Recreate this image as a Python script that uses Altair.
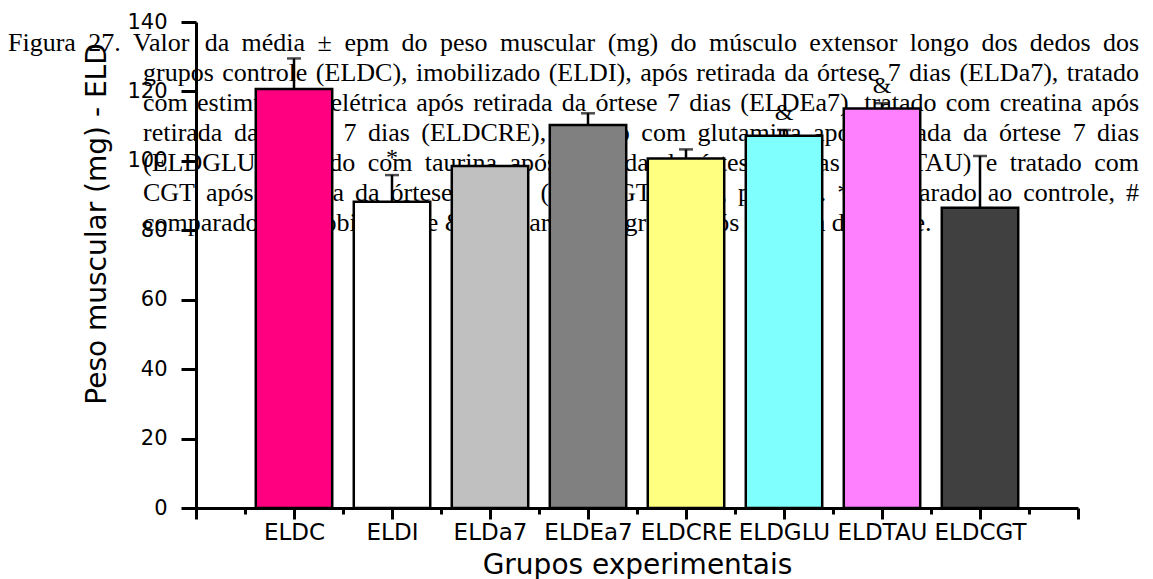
import json
import altair as alt
import pandas as pd

# ---- data -------------------------------------------------------------
groups = ["ELDC", "ELDI", "ELDa7", "ELDEa7", "ELDCRE", "ELDGLU", "ELDTAU", "ELDCGT"]
means = [120.7, 88.2, 98.5, 110.3, 100.7, 107.2, 115.1, 86.5]
sems = [8.8, 7.7, 0.0, 3.4, 2.6, 1.7, 1.5, 14.9]
signif = ["", "*", "", "", "", "&", "&", ""]
colors = ["#FF0080", "#FFFFFF", "#C0C0C0", "#808080", "#FFFF80", "#80FFFF", "#FF80FF", "#404040"]

caption_lines = [
    "Figura 27. Valor da média ± epm do peso muscular (mg) do músculo extensor longo dos dedos dos",
    "grupos controle (ELDC), imobilizado (ELDI), após retirada da órtese 7 dias (ELDa7), tratado",
    "com estimulação elétrica após retirada da órtese 7 dias (ELDEa7), tratado com creatina após",
    "retirada da órtese 7 dias (ELDCRE), tratado com glutamina após retirada da órtese 7 dias",
    "(ELDGLU), tratado com taurina após retirada da órtese 7 dias (ELDTAU) e tratado com",
    "CGT após retirada da órtese 7 dias (ELDCGT) (n=6, p<0,05). * comparado ao controle, #",
    "comparado ao imobilizado e & comparado ao grupo após retirada da órtese.",
]

# ---- layout -----------------------------------------------------------
PAD_L, PAD_T, PLOT_W, PLOT_H = 196, 22, 882, 486
CAP_SIZE = 26
CAP_BASELINES = [51, 81, 111, 141, 171, 201, 231]
CAP_LEFT = [8, 143, 143, 143, 143, 143, 143]
CAP_RIGHT = 1139

# Times / Liberation Serif advance widths (1/1000 em) for justification
_tw = {" ": 250, "#": 500, "&": 778, "(": 333, ")": 333, "*": 500, ",": 250,
       "-": 333, ".": 250, "<": 564, "=": 564, "±": 564}
_tw.update({d: 500 for d in "0123456789"})
_tw.update(dict(zip("ABCDEFGHIJKLMNOPQRSTUVWXYZ",
                    [722, 667, 667, 722, 611, 556, 722, 722, 333, 389, 722, 611, 889,
                     722, 722, 556, 722, 667, 556, 611, 722, 722, 944, 722, 722, 611])))
_tw.update(dict(zip("abcdefghijklmnopqrstuvwxyz",
                    [444, 500, 444, 500, 444, 333, 500, 500, 278, 278, 500, 278, 778,
                     500, 500, 500, 500, 333, 389, 278, 500, 500, 722, 500, 500, 444])))
_tw.update({"é": 444, "ó": 500, "ú": 500, "ç": 444, "ã": 444, "á": 444, "í": 278})


def text_width(s, size):
    return sum(_tw.get(c, 500) for c in s) / 1000.0 * size


rows = []
for i, line in enumerate(caption_lines):
    words = line.split(" ")
    widths = [text_width(w, CAP_SIZE) for w in words]
    last = i == len(caption_lines) - 1
    if last:
        gap = 0.25 * CAP_SIZE
    else:
        gap = (CAP_RIGHT - CAP_LEFT[i] - sum(widths)) / (len(words) - 1)
    x = CAP_LEFT[i]
    for w, wd in zip(words, widths):
        rows.append({"w": w, "px": x - PAD_L, "py": CAP_BASELINES[i] - PAD_T})
        x += wd + gap
caption_df = pd.DataFrame(rows)

df = pd.DataFrame({
    "group": groups,
    "mean": means,
    "sem": sems,
    "sig": signif,
    "pos": list(range(1, len(groups) + 1)),
})

# ---- scales & axes ----------------------------------------------------
xscale = alt.Scale(domain=[0, 9], nice=False, zero=False)
yscale = alt.Scale(domain=[0, 140], nice=False)

label_expr = (
    "datum.value % 1 === 0 && datum.value >= 1 && datum.value <= "
    + str(len(groups))
    + " ? "
    + json.dumps(groups)
    + "[datum.value - 1] : ''"
)

xaxis = alt.Axis(
    values=[k * 0.5 for k in range(19)],
    tickSize={"condition": {"test": "datum.value % 1 === 0", "value": 11}, "value": 6},
    labelExpr=label_expr,
    labelOverlap=False,
    labelFlush=False,
    labelFont="DejaVu Sans",
    labelFontSize=23,
    labelColor="black",
    labelPadding=2,
    domainColor="black",
    domainWidth=3,
    tickColor="black",
    tickWidth=3,
    grid=False,
    title="Grupos experimentais",
    titleFont="DejaVu Sans",
    titleFontSize=28,
    titleFontWeight="normal",
    titleColor="black",
    titleBaseline="alphabetic",
    titleY=65,
)

yaxis = alt.Axis(
    values=list(range(0, 141, 10)),
    tickSize={"condition": {"test": "datum.value % 20 === 0", "value": 15}, "value": 8},
    labelExpr="datum.value % 20 === 0 ? datum.label : ''",
    labelFont="DejaVu Sans",
    labelFontSize=21,
    labelColor="black",
    labelPadding=14,
    domainColor="black",
    domainWidth=3,
    tickColor="black",
    tickWidth=3,
    grid=False,
    title=None,
)

# ---- layers -----------------------------------------------------------
caption = alt.Chart(caption_df).mark_text(
    font="Liberation Serif", fontSize=CAP_SIZE, align="left", baseline="alphabetic", color="black"
).encode(
    x=alt.X("px:Q", scale=None),
    y=alt.Y("py:Q", scale=None),
    text="w:N",
)

base = alt.Chart(df).transform_calculate(
    lo="datum.pos - 0.39", hi="datum.pos + 0.39", top="datum.mean + datum.sem"
)

bars = base.mark_bar(stroke="black", strokeWidth=2.5).encode(
    x=alt.X("lo:Q", scale=xscale, axis=xaxis),
    x2="hi:Q",
    y=alt.Y("mean:Q", scale=yscale, axis=yaxis),
    y2=alt.datum(0),
    color=alt.Color("group:N", scale=alt.Scale(domain=groups, range=colors), legend=None),
)

errs = base.transform_filter("datum.sem > 0")

err_line = errs.mark_rule(color="black", strokeWidth=2.5).encode(
    x="pos:Q", y="mean:Q", y2="top:Q"
)

err_cap = errs.mark_tick(color="black", orient="horizontal", size=14, thickness=2.5).encode(
    x="pos:Q", y="top:Q"
)

sig_text = base.transform_filter("datum.sig != ''").mark_text(
    font="Liberation Serif", fontSize=24, baseline="alphabetic", align="center", dy=-10, color="black"
).encode(x="pos:Q", y="top:Q", text="sig:N")

ytitle = alt.Chart(pd.DataFrame({"t": ["Peso muscular (mg) - ELD"]})).mark_text(
    font="DejaVu Sans", fontSize=28, angle=270, align="center", baseline="middle", color="black"
).encode(x=alt.value(-98), y=alt.value(202), text="t:N")

chart = alt.layer(caption, bars, err_line, err_cap, sig_text, ytitle).properties(
    width=PLOT_W,
    height=PLOT_H,
    autosize=alt.AutoSizeParams(type="none"),
    padding={"left": PAD_L, "top": PAD_T, "right": 1153 - PAD_L - PLOT_W, "bottom": 579 - PAD_T - PLOT_H},
    background="white",
).configure_view(strokeWidth=0)

chart.save("out.html", embed_options={"renderer": "svg", "actions": False})
